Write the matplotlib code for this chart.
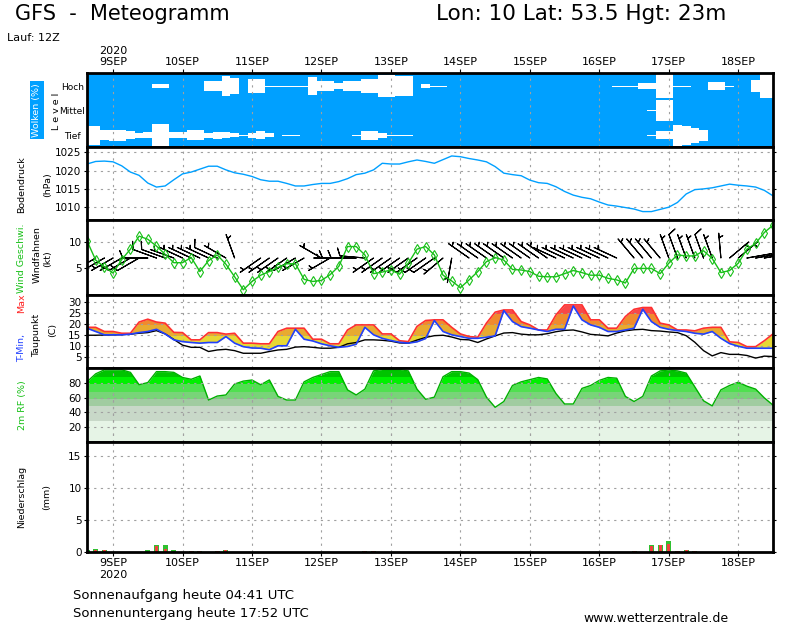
import numpy as np
import matplotlib
matplotlib.use("Agg")
import matplotlib.pyplot as plt
from matplotlib.patches import Rectangle

# ---------------- data (hours since 9 SEP 2020 00 UTC, 3-hourly) ----------------
hours = list(range(-9, 229, 3))
day_ticks = [0, 24, 48, 72, 96, 120, 144, 168, 192, 216]
day_labels_top = ["2020\n9SEP", "10SEP", "11SEP", "12SEP", "13SEP",
                  "14SEP", "15SEP", "16SEP", "17SEP", "18SEP"]
day_labels_bottom = ["9SEP\n2020", "10SEP", "11SEP", "12SEP", "13SEP",
                     "14SEP", "15SEP", "16SEP", "17SEP", "18SEP"]

cloud_high = [0, 0, 0, 0, 0, 0, 0, 0,
              15, 15, 0, 0, 0, 0, 43, 43,
              84, 65, 0, 55, 55, 4, 4, 4,
              4, 4, 76, 38, 38, 27, 40, 40,
              54, 54, 88, 88, 81, 81, 0, 16,
              4, 4, 0, 0, 0, 0, 0, 0,
              0, 0, 0, 0, 0, 0, 0, 0,
              0, 0, 0, 0, 0, 4, 4, 4,
              23, 23, 95, 95, 4, 4, 0, 0,
              30, 30, 4, 0, 0, 50, 97, 97]
cloud_mid = [0] * 64 + [0, 4, 85, 85, 0, 0, 0, 0] + [0] * 8
cloud_low = [80, 80, 40, 45, 45, 32, 22, 25,
             95, 95, 25, 25, 40, 40, 20, 30,
             25, 16, 5, 22, 32, 16, 0, 4,
             4, 0, 0, 0, 0, 0, 0, 4,
             37, 37, 20, 6, 4, 4, 0, 0,
             0, 0, 0, 0, 0, 0, 0, 0,
             0, 0, 0, 0, 0, 0, 0, 0,
             0, 0, 0, 0, 0, 0, 0, 0,
             0, 4, 33, 33, 85, 77, 58, 47,
             0, 0, 0, 0, 0, 0, 0, 0]

pressure = [1021.8, 1022.5, 1022.6, 1022.4, 1021.3, 1019.6, 1018.7, 1016.6,
            1015.5, 1015.8, 1017.5, 1019.1, 1019.6, 1020.4, 1021.2, 1021.2,
            1020.2, 1019.4, 1019.0, 1018.4, 1017.5, 1017.1, 1017.1, 1016.5,
            1015.8, 1015.8, 1016.2, 1016.5, 1016.5, 1017.0, 1017.8, 1018.9,
            1019.3, 1020.2, 1022.0, 1021.8, 1021.8, 1022.4, 1022.9, 1022.5,
            1022.0, 1023.0, 1024.0, 1023.8, 1023.3, 1022.9, 1022.4, 1021.1,
            1019.3, 1018.9, 1018.6, 1017.4, 1016.7, 1016.5, 1015.6, 1014.3,
            1013.3, 1012.7, 1012.3, 1011.4, 1010.6, 1010.3, 1009.9, 1009.5,
            1008.8, 1008.8, 1009.4, 1010.0, 1011.3, 1013.6, 1014.8, 1015.0,
            1015.3, 1015.8, 1016.3, 1016.0, 1015.8, 1015.5, 1014.6, 1013.1]

wind_speed = [10.3, 6.6, 5.3, 4.1, 6.7, 8.7, 11.2, 10.6,
              9.3, 7.7, 6.1, 6.1, 7.1, 4.4, 6.5, 7.6,
              5.8, 3.4, 0.9, 2.5, 3.7, 4.4, 5.2, 5.9,
              5.9, 2.9, 2.5, 2.7, 3.8, 5.4, 9.2, 9.2,
              7.6, 4.0, 4.3, 4.7, 3.9, 6.0, 8.7, 9.2,
              7.6, 3.7, 2.6, 1.3, 2.8, 4.4, 6.3, 7.1,
              6.6, 4.8, 4.7, 4.4, 3.5, 3.4, 3.4, 4.0,
              4.6, 4.2, 3.7, 3.7, 3.1, 2.8, 2.2, 5.0,
              5.0, 5.0, 4.0, 6.0, 7.6, 7.4, 7.4, 8.4,
              6.9, 4.2, 4.6, 6.0, 8.7, 9.8, 11.9, 13.3]

wind_dir = [240, 240, 240, 240, 240, 240, 240, 270,
            290, 290, 290, 295, 295, 295, 295, 295,
            300, 340, 190, 235, 235, 235, 235, 235,
            240, 240, 240, 300, 240, 270, 270, 270,
            275, 235, 235, 235, 235, 235, 235, 235,
            235, 230, 190, 185, 305, 305, 305, 305,
            305, 305, 305, 305, 305, 305, 295, 295,
            295, 295, 295, 295, 295, 295, 320, 320,
            320, 320, 320, 340, 340, 340, 340, 340,
            340, 355, 50, 50, 80, 80, 80, 80]

t_max = [18.6, 18.6, 16.7, 16.7, 15.9, 15.9, 21.0, 22.3,
         21.0, 20.5, 16.3, 16.2, 12.9, 12.9, 16.2, 16.2,
         15.5, 15.9, 11.4, 11.4, 11.1, 11.1, 16.7, 18.2,
         18.2, 18.2, 13.2, 13.2, 11.1, 11.1, 17.4, 19.7,
         19.7, 19.7, 15.6, 15.6, 12.5, 12.1, 19.0, 21.7,
         22.0, 22.0, 18.6, 15.6, 14.4, 14.1, 20.5, 25.5,
         26.5, 26.5, 21.2, 19.7, 17.4, 17.4, 24.2, 28.8,
         28.8, 28.8, 22.0, 22.0, 18.2, 18.2, 23.5, 26.8,
         27.6, 27.6, 20.5, 19.7, 17.4, 17.4, 17.0, 18.2,
         18.6, 18.6, 12.0, 11.7, 9.8, 9.8, 12.5, 15.6]

t_min = [18.2, 16.7, 15.2, 15.2, 15.2, 15.5, 16.2, 16.7,
         17.7, 15.6, 12.9, 12.1, 11.7, 11.4, 11.7, 11.7,
         14.4, 11.4, 9.8, 9.2, 9.1, 8.4, 10.2, 10.2,
         17.7, 13.2, 12.4, 11.1, 10.2, 9.5, 9.9, 10.9,
         18.6, 15.2, 13.6, 12.6, 11.8, 11.4, 12.0, 13.5,
         21.7, 16.7, 15.2, 14.4, 13.6, 13.6, 14.1, 14.7,
         26.2, 21.2, 18.9, 18.2, 17.4, 16.7, 17.7, 17.7,
         28.3, 22.0, 19.7, 18.6, 16.7, 16.7, 17.4, 18.2,
         26.8, 21.2, 18.6, 17.7, 17.1, 16.7, 15.9, 15.5,
         16.7, 13.6, 11.2, 10.0, 9.1, 9.1, 9.1, 9.1]

dewpoint = [15.0, 15.0, 15.1, 15.2, 15.3, 15.5, 15.9, 16.2,
            17.1, 15.6, 13.1, 10.5, 9.5, 9.5, 7.6, 8.3,
            8.6, 8.0, 6.8, 6.8, 6.8, 7.6, 8.3, 8.6,
            9.6, 9.8, 9.5, 9.1, 9.1, 9.5, 11.1, 11.7,
            12.9, 12.9, 12.7, 12.3, 11.5, 11.4, 12.8, 14.0,
            14.8, 15.0, 14.2, 13.1, 12.9, 11.7, 13.3, 14.7,
            16.0, 16.2, 15.5, 15.2, 15.2, 15.7, 16.6, 17.2,
            17.4, 16.5, 15.4, 15.1, 14.7, 16.0, 17.0, 17.5,
            17.7, 17.1, 16.9, 16.5, 16.2, 14.8, 11.8, 8.0,
            5.6, 7.1, 6.3, 6.3, 5.8, 4.6, 5.5, 5.3]

rel_hum = [82, 93, 98.5, 98.5, 98.5, 95, 78, 81,
           96, 96, 95, 88, 85.5, 90, 57, 62.5,
           64, 79, 83, 84.5, 78, 84.6, 62, 57,
           57, 82, 88, 92, 96, 96, 71, 64,
           72, 97, 99, 99, 99, 97, 72, 58,
           61, 89, 96, 96, 94, 85, 61, 47,
           55, 77, 82, 85, 88, 86, 66, 51.6,
           51.6, 73, 77, 84, 88, 87, 62, 55,
           62, 90, 97, 98.3, 97, 94, 75, 56,
           49, 71, 77, 81.5, 76, 72, 60, 50]

precip_hours = [-9, -6, -3, 12, 15, 18, 21, 27, 30, 36, 39, 87, 90,
                180, 186, 189, 192, 195, 198, 201]
precip_total = [0.35, 0.5, 0.35, 0.35, 1.1, 1.1, 0.35, 0.1, 0.1, 0.1, 0.35, 0.1, 0.1,
                0.1, 1.1, 1.1, 1.65, 0.1, 0.35, 0.1]
precip_conv = [0.35, 0.35, 0.35, 0.0, 0.9, 0.45, 0.0, 0.1, 0.1, 0.1, 0.35, 0.1, 0.1,
               0.1, 1.0, 1.1, 1.3, 0.1, 0.35, 0.1]

# ---------------- figure ----------------
plt.rcParams["font.family"] = ["DejaVu Sans"]
W, H = 800, 625
fig = plt.figure(figsize=(W / 100, H / 100), dpi=100)
X0, X1 = 87, 773


def px_axes(top, bottom):
    return fig.add_axes([X0 / W, 1 - bottom / H, (X1 - X0) / W, (bottom - top) / H])


def ftext(x, y, s, **kw):
    return fig.text(x / W, 1 - y / H, s, **kw)


GRID = dict(color="#a0a0a0", linestyle=(0, (2, 4)), linewidth=0.8)
SKY = "#00a0ff"

ax_cl = px_axes(73, 147)
ax_p = px_axes(147, 220)
ax_w = px_axes(220, 295)
ax_t = px_axes(295, 368)
ax_rh = px_axes(368, 442)
ax_pr = px_axes(442, 552)
all_axes = [ax_cl, ax_p, ax_w, ax_t, ax_rh, ax_pr]

for ax in all_axes:
    ax.set_xlim(-9, 228)
    ax.set_xticks(day_ticks)
    for s in ax.spines.values():
        s.set_linewidth(2.0)
        s.set_color("black")
        s.set_zorder(10)
    ax.set_axisbelow("line")
    ax.grid(True, axis="x", **GRID)
    ax.tick_params(axis="x", length=0, labelbottom=False)
    ax.tick_params(axis="y", direction="out", length=2.5, width=0.8,
                   labelsize=7.5, pad=1.5, right=True)

# ---- clouds ----
ax_cl.set_facecolor(SKY)
ax_cl.set_ylim(0, 3)
for cov, c in [(cloud_low, 0.47), (cloud_mid, 1.48), (cloud_high, 2.47)]:
    half = np.array(cov) / 100.0 * 0.5
    ax_cl.fill_between(hours, c - half, c + half, step="mid", color="white", lw=0)
ax_cl.set_yticks([0.47, 1.48, 2.47], ["Tief", "Mittel", "Hoch"])
ax_cl.tick_params(axis="y", length=0, pad=10.5, labelsize=6.5, right=False)
for lab in ax_cl.get_yticklabels():
    lab.set_horizontalalignment("center")
ax_cl.xaxis.set_ticks_position("top")
ax_cl.tick_params(axis="x", top=True, bottom=False, labeltop=True, labelbottom=False,
                  length=3, width=0.8, direction="out", labelsize=8, pad=1)
ax_cl.set_xticklabels(day_labels_top)

# ---- pressure ----
ax_p.grid(True, axis="y", **GRID)
ax_p.plot(hours, pressure, color=SKY, lw=1.0)
ax_p.set_ylim(1006.5, 1026.45)
ax_p.set_yticks([1010, 1015, 1020, 1025])

# ---- wind ----
ax_w.grid(True, axis="y", **GRID)
ax_w.set_ylim(-0.1, 14.3)
ax_w.set_yticks([5, 10])
spd = np.array(wind_speed)
rad = np.deg2rad(np.array(wind_dir))
u = -spd * np.sin(rad)
v = -spd * np.cos(rad)
ax_w.barbs(hours, np.full(len(hours), 7.0), u, v, length=6.0, color="black",
           linewidth=0.8, sizes=dict(emptybarb=0.0, height=0.3, spacing=0.12), zorder=3)
ax_w.plot(hours, wind_speed, color="#18c018", lw=1.0, marker="d", ms=5,
          mfc="none", mec="#18c018", mew=0.8, zorder=4)

# ---- temperature ----
ax_t.grid(True, axis="y", **GRID)
ax_t.set_ylim(0.1, 33.3)
ax_t.set_yticks([5, 10, 15, 20, 25, 30])
temp_bands = [(-50, 15, "#e6d834"), (15, 20, "#e8aa30"), (20, 25, "#f08a2e"), (25, 60, "#f84848")]
for lo, hi, col in temp_bands:
    poly = ax_t.fill_between(hours, t_min, t_max, color=col, lw=0)
    poly.set_clip_path(Rectangle((-100, lo), 400, hi - lo, transform=ax_t.transData))
ax_t.plot(hours, dewpoint, color="black", lw=1.0)
ax_t.plot(hours, t_max, color="#ff3030", lw=1.2)
ax_t.plot(hours, t_min, color="#2040ff", lw=1.2)

# ---- relative humidity ----
ax_rh.set_ylim(-0.6, 101)
ax_rh.set_yticks([20, 40, 60, 80])
rh_bands = [(-5, 30, "#e6f4e6"), (30, 50, "#c8d8c8"), (50, 60, "#a0cca0"),
            (60, 70, "#78d478"), (70, 80, "#50e050"), (80, 90, "#00f000"), (90, 110, "#00c400")]
for lo, hi, col in rh_bands:
    poly = ax_rh.fill_between(hours, -5, rel_hum, color=col, lw=0)
    poly.set_clip_path(Rectangle((-100, lo), 400, hi - lo, transform=ax_rh.transData))
ax_rh.plot(hours, rel_hum, color="#00b000", lw=1.0)
for yv in [20, 40, 60, 80]:
    ax_rh.axhline(yv, zorder=2.5, **GRID)
for xv in day_ticks:
    ax_rh.axvline(xv, zorder=2.5, **GRID)

# ---- precipitation ----
ax_pr.grid(True, axis="y", **GRID)
ax_pr.set_ylim(0, 17.1)
ax_pr.set_yticks([0, 5, 10, 15])
ax_pr.bar(precip_hours, precip_total, width=1.75, color="#30c030", zorder=3)
ax_pr.bar(precip_hours, precip_conv, width=1.0, color="#f04040", zorder=4)
ax_pr.tick_params(axis="x", bottom=True, labelbottom=True, length=3, width=0.8,
                  direction="out", labelsize=8, pad=1.5)
ax_pr.set_xticklabels(day_labels_bottom)

# ---------------- texts ----------------
ftext(15, 19.5, "GFS  -  Meteogramm", fontsize=15, ha="left", va="baseline")
ftext(436, 19.5, "Lon: 10 Lat: 53.5 Hgt: 23m", fontsize=15.5, ha="left", va="baseline")
ftext(7, 41, "Lauf: 12Z", fontsize=8, ha="left", va="baseline")

side = dict(rotation=90, ha="center", va="center", fontsize=6.8)
ftext(37, 110, "Wolken (%)", color="white",
      bbox=dict(facecolor=SKY, edgecolor="none", pad=1.5), **side)
ftext(56, 111, "L e v e l", **side)
ftext(22, 185, "Bodendruck", **side)
ftext(48, 185, "(hPa)", **side)
ftext(22, 258, "Wind Geschwi.", color="#18c018", **side)
ftext(37, 255, "Windfahnen", **side)
ftext(48, 259, "(kt)", **side)
ftext(22, 348, "T-Min,", color="#2040ff", **side)
ftext(22, 303, "Max", color="#ff2020", **side)
ftext(37, 335, "Taupunkt", **side)
ftext(53, 330, "(C)", **side)
ftext(22, 405, "2m RF (%)", color="#18c018", **side)
ftext(22, 497, "Niederschlag", **side)
ftext(47, 497, "(mm)", **side)

ftext(73, 599, "Sonnenaufgang heute 04:41 UTC", fontsize=9.5, ha="left", va="baseline")
ftext(73, 617.5, "Sonnenuntergang heute 17:52 UTC", fontsize=9.5, ha="left", va="baseline")
ftext(583, 621.5, "www.wetterzentrale.de", fontsize=9, ha="left", va="baseline")

fig.savefig("out.png", dpi=100)
